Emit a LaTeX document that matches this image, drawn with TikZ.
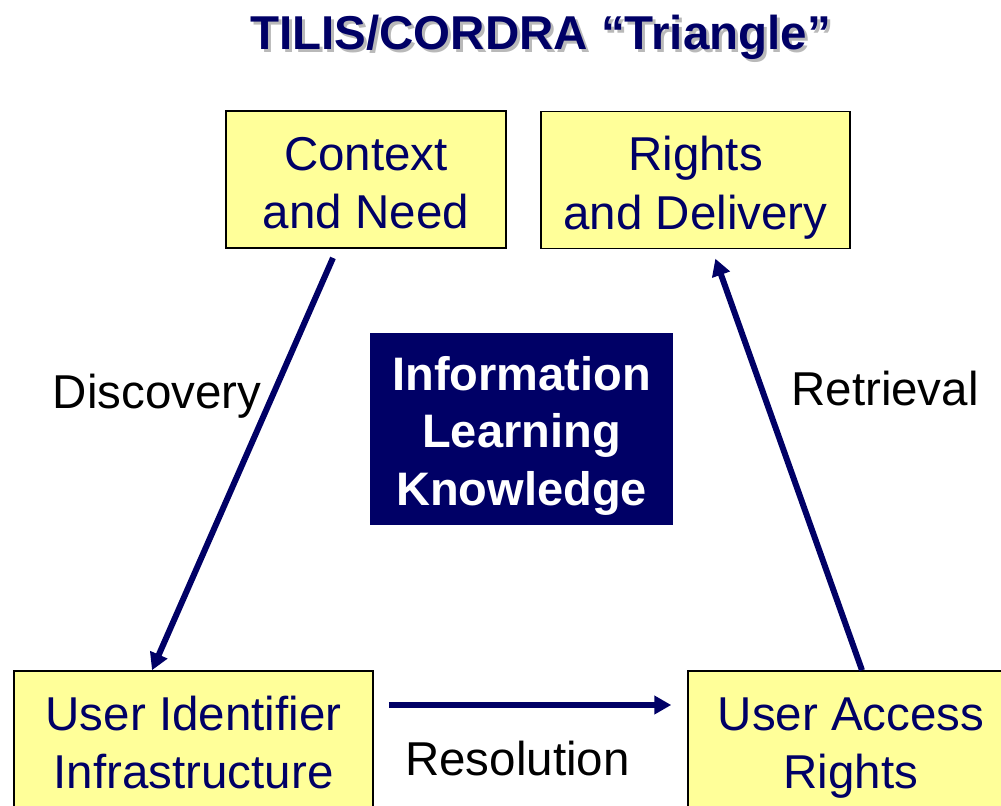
\documentclass[tikz,border=0pt]{standalone}
\usepackage{fontspec}
\setmainfont{Liberation Sans}
\usetikzlibrary{arrows.meta}
\definecolor{navy}{HTML}{000066}
\definecolor{paleyellow}{HTML}{FFFF99}
\newcommand{\topstrut}{\rule{0pt}{50bp}}
\newcommand{\lowstrut}{\rule[-10bp]{0pt}{10bp}}
\tikzset{
  big/.style={font=\fontsize{47.5bp}{58.5bp}\selectfont},
  box/.style={big, draw=black, line width=1.5bp, fill=paleyellow, text=navy,
    align=center, inner sep=0pt, minimum height=137bp},
  flow/.style={navy, line width=6bp, -{Triangle[length=17bp,width=18bp]}},
  lbl/.style={big, anchor=base},
  heading/.style={font=\fontsize{47.5bp}{59bp}\selectfont\bfseries, anchor=base}
}

\begin{document}
\begin{tikzpicture}[x=1bp,y=-1bp]
  \clip (0,0) rectangle (1001,806);
  % title with its shadow
  \node[heading, text=gray!55] (titleshadow) at (543.5,53) {TILIS/CORDRA “Triangle”};
  \node[heading, text=navy] (title) at (540.5,50) {TILIS/CORDRA “Triangle”};
  % corners of the triangle
  \node[box, minimum width=280bp] (ctx) at (366,179.5) {\topstrut Context\\and Need\lowstrut};
  \node[box, minimum width=309bp] (rights) at (695.5,180) {\topstrut Rights\\and Delivery\lowstrut};
  \node[box, minimum width=359bp] (uii) at (193.5,739.5) {\topstrut User Identifier\\Infrastructure\lowstrut};
  \node[box, minimum width=326bp] (uar) at (851,739.5) {\topstrut User Access\\Rights\lowstrut};
  % centre
  \node[fill=navy, text=white, align=center, inner sep=0pt,
    minimum width=303bp, minimum height=192bp,
    font=\fontsize{47bp}{57.5bp}\selectfont\bfseries] (info) at (521.5,429)
    {\rule{0pt}{47bp}Information\\Learning\\Knowledge\lowstrut};
  % flows
  \draw[flow, shorten <=10bp] ([shift={(-29,0)}]ctx.south) -- ([shift={(-41.5,0)}]uii.north);
  \draw[flow, shorten <=15bp, shorten >=16bp] ([shift={(0,-34.5)}]uii.east) -- ([shift={(0,-34.5)}]uar.west);
  \draw[flow, shorten >=10bp] ([shift={(11,0)}]uar.north) -- ([shift={(16.5,0)}]rights.south);
  \node[lbl] (discovery) at (157,408) {Discovery};
  \node[lbl] (retrieval) at (885,405) {Retrieval};
  \node[lbl] (resolution) at (517.5,775) {Resolution};
\end{tikzpicture}
\end{document}
